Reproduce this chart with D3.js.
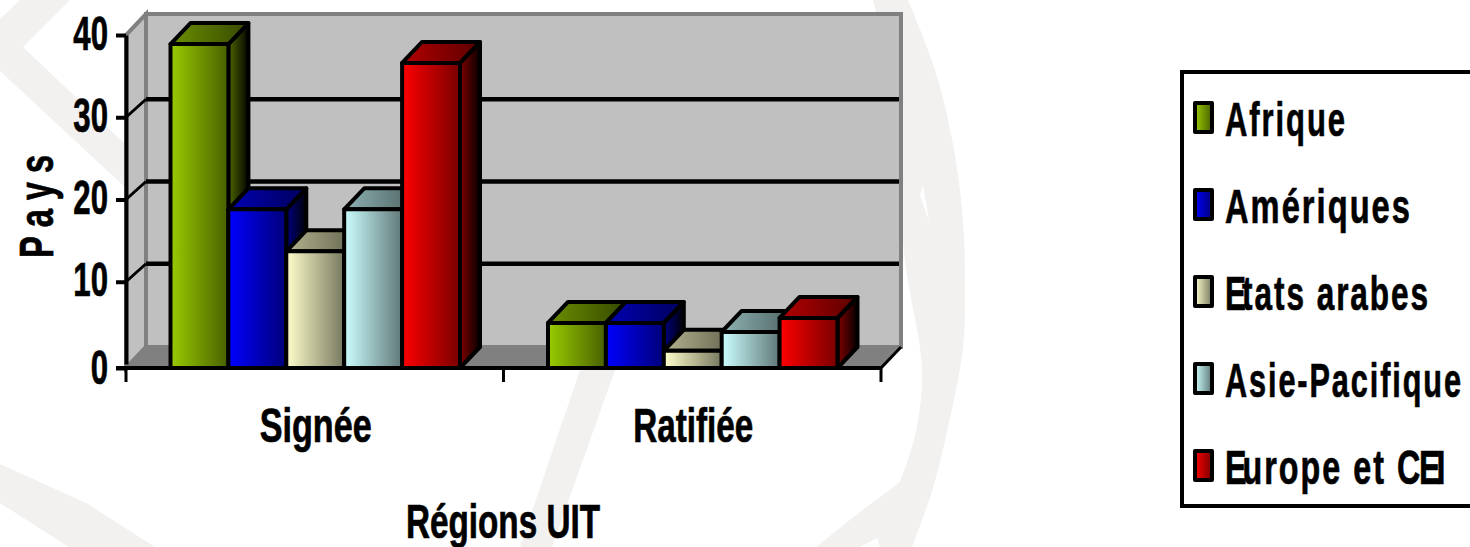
<!DOCTYPE html>
<html>
<head>
<meta charset="utf-8">
<script src="https://cdn.jsdelivr.net/npm/d3@7"></script>
<style>
  html, body { margin: 0; background: #fff; overflow: hidden; }
  text { font-family: "Liberation Sans", Arial, sans-serif; font-weight: bold; fill: #000; font-size: 48px; stroke: #000; stroke-width: 0.7px; }
</style>
</head>
<body>
<div id="chart"></div>
<script>
// data
var categories = ["Signée", "Ratifiée"];
var seriesNames = ["Afrique", "Amériques", "Etats arabes", "Asie-Pacifique", "Europe et CEI"];
var afrique = [38.9, 5];
var ameriques = [18.8, 5];
var etatsArabes = [13.7, 1.6];
var asiePacifique = [18.8, 3.9];
var europeCei = [36.6, 5.6];
var seriesColors = ["#99cc00", "#0000ff", "#ffffcc", "#ccffff", "#ff0000"];
var yTicks = [0, 10, 20, 30, 40];
var seriesValues = [afrique, ameriques, etatsArabes, asiePacifique, europeCei];

var width = 1470, height = 547;

// depth of the fake 3d box
var depthX = 20, depthY = -21, gridDepthY = -18;
// the floor of the box sits a little under the zero of the scale
var yBase = 368;

var svg = d3.select("#chart").append("svg")
    .attr("width", width)
    .attr("height", height)
    .style("display", "block");

var defs = svg.append("defs");

// watermark behind the chart
var watermark = "#f2f1f0";
var wmLine = d3.line().curve(d3.curveCatmullRom);
svg.append("path")
    .attr("fill", watermark)
    .attr("d", "M0,19L20,0L70,0L23,47L300,310L300,350L0,71Z");
svg.append("path")
    .attr("fill", watermark)
    .attr("d", "M0,464L86,503L155,547L69,547L0,503Z");
svg.append("path")
    .attr("fill", watermark)
    .attr("d", "M580,370L615,370L552,547L520,547Z");
svg.append("path")
    .attr("fill", watermark)
    .attr("d", wmLine([[908, 0], [935, 70], [952, 139], [962, 209], [965, 279], [963, 348], [950, 418], [933, 488], [912, 547]])
      + "L880,547L877,538L860,547L816,547L860,512"
      + wmLine([[900, 482], [915, 436], [922, 383], [920, 348], [905, 261], [895, 100], [873, 0]]).replace("M", "L") + "Z");
svg.append("path")
    .attr("fill", "#fff")
    .attr("d", "M923,186L920,195L929,221Z");

// scales
var x = d3.scaleBand()
    .domain(categories)
    .range([126, 881]);

var xInner = d3.scaleBand()
    .domain(seriesNames)
    .range([0, x.bandwidth()])
    .paddingInner(0)
    .paddingOuter(0.76);

var y = d3.scaleLinear()
    .domain([0, 40])
    .range([364, 35]);

function pts(list) {
  return list.map(function(p) { return p.join(","); }).join(" ");
}

var x0 = x.range()[0], x1 = x.range()[1], yTop = y(40);

// left wall, back wall, floor
svg.append("polygon")
    .attr("points", pts([[x0, yBase], [x0 + depthX, yBase + depthY], [x0 + depthX, yTop + depthY], [x0, yTop]]))
    .attr("fill", "#c0c0c0")
    .attr("stroke", "#808080")
    .attr("stroke-width", 4);
svg.append("polygon")
    .attr("points", pts([[x0, yBase], [x1, yBase], [x1 + depthX, yBase + depthY], [x0 + depthX, yBase + depthY]]))
    .attr("fill", "#808080");
svg.append("rect")
    .attr("x", x0 + depthX)
    .attr("y", yTop + depthY)
    .attr("width", x1 - x0)
    .attr("height", yBase - yTop)
    .attr("fill", "#c0c0c0")
    .attr("stroke", "#808080")
    .attr("stroke-width", 4);

// gridlines on the back wall and their diagonals on the left wall
svg.append("g").selectAll("line")
    .data(yTicks.slice(1, 4))
    .join("line")
    .attr("x1", x0 + depthX)
    .attr("x2", x1 + depthX - 2)
    .attr("y1", function(d) { return y(d) + gridDepthY; })
    .attr("y2", function(d) { return y(d) + gridDepthY; })
    .attr("stroke", "#000")
    .attr("stroke-width", 4.5);
svg.append("g").selectAll("line")
    .data(yTicks.slice(1, 4))
    .join("line")
    .attr("x1", x0)
    .attr("x2", x0 + depthX)
    .attr("y1", function(d) { return y(d); })
    .attr("y2", function(d) { return y(d) + gridDepthY; })
    .attr("stroke", "#000")
    .attr("stroke-width", 3);
svg.append("line")
    .attr("x1", x1)
    .attr("x2", x1 + depthX)
    .attr("y1", yBase)
    .attr("y2", yBase + depthY)
    .attr("stroke", "#000")
    .attr("stroke-width", 3);

// gradients, one set per series
function shade(color, k) {
  var c = d3.rgb(color);
  return d3.rgb(c.r * k, c.g * k, c.b * k).formatHex();
}
function gradient(id, from, to) {
  var g = defs.append("linearGradient").attr("id", id);
  g.append("stop").attr("offset", "0%").attr("stop-color", from);
  g.append("stop").attr("offset", "100%").attr("stop-color", to);
}
seriesColors.forEach(function(c, i) {
  gradient("front" + i, c, shade(c, 0.47));
  gradient("top" + i, shade(c, 0.7), shade(c, 0.36));
  gradient("side" + i, shade(c, 0.5), shade(c, 0.02));
});

// bars
var bars = [];
seriesNames.forEach(function(name, i) {
  categories.forEach(function(cat, j) {
    bars.push({cat: cat, name: name, i: i, value: seriesValues[i][j]});
  });
});

var bar = svg.append("g").selectAll("g")
    .data(bars)
    .join("g")
    .attr("stroke", "#000")
    .attr("stroke-width", 4)
    .attr("stroke-linejoin", "round");

function bx(d) { return x(d.cat) + xInner(d.name) + 0.5; }

bar.append("polygon")
    .attr("fill", function(d) { return "url(#side" + d.i + ")"; })
    .attr("points", function(d) {
      var r = bx(d) + xInner.bandwidth();
      return pts([[r, yBase], [r + depthX, yBase + depthY], [r + depthX, y(d.value) + depthY], [r, y(d.value)]]);
    });
bar.append("polygon")
    .attr("fill", function(d) { return "url(#top" + d.i + ")"; })
    .attr("points", function(d) {
      var l = bx(d), r = l + xInner.bandwidth(), t = y(d.value);
      return pts([[l, t], [r, t], [r + depthX, t + depthY], [l + depthX, t + depthY]]);
    });
bar.append("rect")
    .attr("fill", function(d) { return "url(#front" + d.i + ")"; })
    .attr("x", bx)
    .attr("y", function(d) { return y(d.value); })
    .attr("width", xInner.bandwidth())
    .attr("height", function(d) { return yBase - y(d.value); });

// y axis
var yAxis = svg.append("g")
    .attr("transform", "translate(" + x0 + ",0)")
    .call(d3.axisLeft(y).tickValues(yTicks).tickSizeInner(10).tickSizeOuter(0).tickFormat(d3.format("d")));
yAxis.select(".domain").attr("stroke", "#000").attr("stroke-width", 4);
yAxis.selectAll(".tick line")
    .attr("stroke", "#000")
    .attr("stroke-width", 4)
    .attr("transform", function(d) { return d === 0 ? "translate(0,4)" : null; });
yAxis.selectAll(".tick text")
    .attr("x", 0)
    .attr("dy", 0)
    .attr("text-anchor", "end")
    .style("font-size", "48px")
    .attr("transform", function(d) { return "translate(-18," + (d === 0 ? 19 : 14) + ") scale(0.65,1)"; });

// x axis, ticks sit between the groups
svg.append("line")
    .attr("x1", x0 - 10)
    .attr("x2", x1)
    .attr("y1", yBase)
    .attr("y2", yBase)
    .attr("stroke", "#000")
    .attr("stroke-width", 4);
svg.append("line")
    .attr("x1", x0)
    .attr("x2", x0)
    .attr("y1", yBase)
    .attr("y2", yBase + 14)
    .attr("stroke", "#000")
    .attr("stroke-width", 3);
svg.append("g").selectAll("line")
    .data(categories)
    .join("line")
    .attr("x1", function(d) { return x(d) + x.bandwidth(); })
    .attr("x2", function(d) { return x(d) + x.bandwidth(); })
    .attr("y1", yBase)
    .attr("y2", yBase + 14)
    .attr("stroke", "#000")
    .attr("stroke-width", 3);

// squeeze a text to a given width, the picture's labels are all condensed like this
function fit(sel, tx, ty, w, rot) {
  sel.each(function() {
    var k = w / this.getComputedTextLength();
    d3.select(this).attr("transform",
      "translate(" + tx + "," + ty + ")" + (rot ? " rotate(" + rot + ")" : "") + " scale(" + k + ",1)");
  });
}

var catWidths = [112, 120];
svg.append("g").selectAll("text")
    .data(categories)
    .join("text")
    .text(function(d) { return d; })
    .each(function(d, i) {
      fit(d3.select(this), x(d) + x.bandwidth() / 2 - catWidths[i] / 2 + 1, 442, catWidths[i]);
    });

fit(svg.append("text").text("Régions UIT"), 406, 538, 194);

fit(svg.append("text").text("Pays").attr("letter-spacing", 13), 53, 258, 112, -90);

// legend
svg.append("rect")
    .attr("x", 1182)
    .attr("y", 72)
    .attr("width", 400)
    .attr("height", 434)
    .attr("fill", "none")
    .attr("stroke", "#000")
    .attr("stroke-width", 4);

var legendY = d3.scalePoint()
    .domain(seriesNames)
    .range([135, 483]);
var legendWidths = [122, 187, 211, 238, 238];
// the capitals run into the next letter in the picture
var legendDx = ["0", "0", "0 -9", "0", "0 -9 0 0 0 0 0 0 0 0 0 -5 -9"];

var legend = svg.append("g").selectAll("g")
    .data(seriesNames)
    .join("g");

legend.append("rect")
    .attr("x", 1195)
    .attr("y", function(d) { return legendY(d) - 32; })
    .attr("width", 17)
    .attr("height", 29)
    .attr("fill", function(d, i) { return "url(#front" + i + ")"; })
    .attr("stroke", "#000")
    .attr("stroke-width", 4)
    .attr("stroke-linejoin", "round");

legend.append("text")
    .attr("letter-spacing", 3)
    .attr("dx", function(d, i) { return legendDx[i]; })
    .text(function(d) { return d; })
    .each(function(d, i) {
      fit(d3.select(this), 1225, legendY(d) + 1, legendWidths[i]);
    });
</script>
</body>
</html>
